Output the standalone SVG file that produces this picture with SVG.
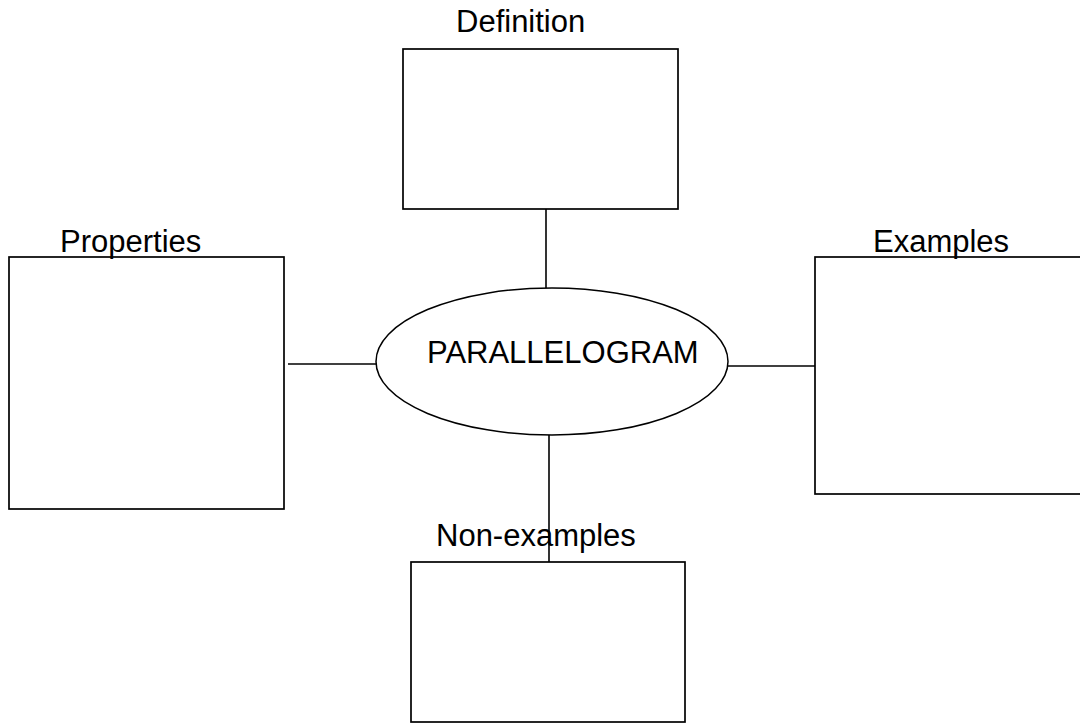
<svg xmlns="http://www.w3.org/2000/svg" width="1080" height="723" viewBox="0 0 1080 723">
<style>
.box{fill:#fff;stroke:#000;stroke-width:1.7}
.lbl{font-family:"Liberation Sans",Arial,sans-serif;font-size:31px;fill:#000}
.con{stroke:#000;stroke-width:1.6;fill:none}
</style>
<rect width="1080" height="723" fill="#fff"/>
<g id="definition">
<rect class="box" x="403" y="49" width="275" height="160"/>
<text class="lbl" x="456" y="32">Definition</text>
</g>
<g id="properties">
<rect class="box" x="9" y="257" width="275" height="252"/>
<text class="lbl" x="60" y="252">Properties</text>
</g>
<g id="examples">
<rect class="box" x="815" y="257" width="280" height="237"/>
<text class="lbl" x="873" y="252">Examples</text>
</g>
<g id="nonexamples">
<rect class="box" x="411" y="562" width="274" height="160"/>
<text class="lbl" x="436" y="546">Non-examples</text>
</g>
<g id="center">
<ellipse cx="552" cy="361.5" rx="176" ry="73.5" fill="#fff" stroke="#000" stroke-width="1.5"/>
<text class="lbl" x="427" y="363">PARALLELOGRAM</text>
</g>
<g id="connectors">
<line class="con" x1="546" y1="209" x2="546" y2="288"/>
<line class="con" x1="288" y1="364" x2="376" y2="364"/>
<line class="con" x1="728" y1="366" x2="815" y2="366"/>
<line class="con" x1="549" y1="435" x2="549" y2="562"/>
</g>
</svg>
